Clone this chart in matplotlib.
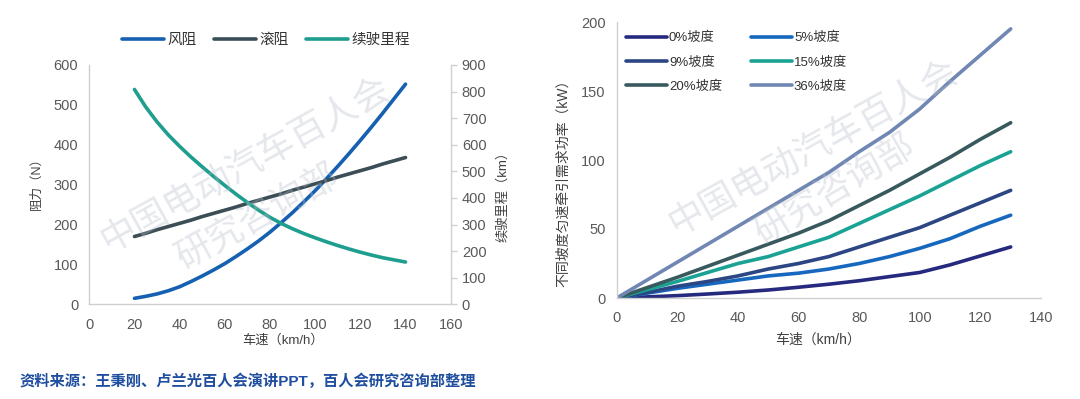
import matplotlib
matplotlib.use('Agg')
import matplotlib.pyplot as plt

plt.rcParams['font.family'] = ['Liberation Sans', 'Noto Sans CJK SC']

# ---------------- data: left chart ----------------
speed_left = [20, 25, 30, 35, 40, 45, 50, 55, 60, 65, 70, 75, 80, 85, 90, 95,
              100, 105, 110, 115, 120, 125, 130, 135, 140]
wind_res = [15, 20, 26, 34, 44, 57, 71, 86, 102, 120, 139, 159, 181, 205, 230, 257,
            285, 315, 346, 378, 411, 445, 480, 516, 552]
roll_res = [170, 178, 187, 195, 203, 211, 220, 228, 236, 244, 253, 261, 269, 277, 286, 294,
            302, 310, 319, 327, 335, 343, 352, 360, 368]
range_km = [808, 742, 686, 637, 594, 554, 517, 481, 447, 414, 383, 354, 327, 304, 284, 266,
            250, 235, 221, 208, 196, 185, 175, 167, 159]
left_labels = ['风阻', '滚阻', '续驶里程']

# ---------------- data: right chart ----------------
speed_right = [0, 10, 20, 30, 40, 50, 60, 70, 80, 90, 100, 110, 120, 130]
grade_0 = [0, 0.8, 1.7, 2.9, 4.2, 5.8, 7.8, 10, 12.5, 15.5, 18.5, 24, 30.5, 37]
grade_5 = [0, 3.5, 7, 10, 13, 16, 18, 21, 25, 30, 36, 43, 52, 60]
grade_9 = [0, 4, 8.5, 12, 16, 21, 25, 30, 37, 44, 51, 60, 69, 78]
grade_15 = [0, 6, 12, 18.5, 25, 30, 37, 44, 54, 64, 74, 85, 96, 106]
grade_20 = [0, 7.5, 15, 23, 31, 39, 47, 56, 67, 78, 90, 102, 115, 127]
grade_36 = [0, 13, 26, 39, 52, 65, 78, 91, 106, 120, 137, 157, 176, 195]
grade_labels = ['0%坡度', '5%坡度', '9%坡度', '15%坡度', '20%坡度', '36%坡度']

W, H = 1080, 399
fig = plt.figure(figsize=(W / 100, H / 100), dpi=100)
fig.patch.set_facecolor('white')

tick_col = '#595959'
lab_col = '#404040'
spine_col = '#D0D0D0'
lw = 2.6

def px(x, y):
    return x / W, 1 - y / H

# ---------------- left chart ----------------
axL = fig.add_axes([89.3 / W, (H - 304.3) / H, (450.7 - 89.3) / W, (304.3 - 65) / H])
axR = axL.twinx()
l1, = axL.plot(speed_left, wind_res, color='#1560B0', lw=lw, solid_capstyle='round')
l2, = axL.plot(speed_left, roll_res, color='#3C4E55', lw=lw, solid_capstyle='round')
l3, = axR.plot(speed_left, range_km, color='#1E9E8E', lw=lw, solid_capstyle='round')
axL.set_xlim(0, 160)
axL.set_ylim(0, 600)
axR.set_ylim(0, 900)
axL.set_xticks(range(0, 161, 20))
axL.set_yticks(range(0, 601, 100))
axR.set_yticks(range(0, 901, 100))
for a in (axL, axR):
    for s in a.spines.values():
        s.set_color(spine_col)
        s.set_linewidth(1.0)
    a.spines['top'].set_visible(False)
axL.spines['right'].set_visible(False)
axR.spines['left'].set_visible(False)
axR.spines['bottom'].set_visible(False)
axL.tick_params(axis='both', length=0, labelsize=10.5, labelcolor=tick_col)
axL.tick_params(axis='x', pad=10)
axL.tick_params(axis='y', pad=8)
axR.tick_params(axis='y', length=4, width=1, color=spine_col, labelsize=10.5,
                labelcolor=tick_col, pad=4, direction='out')

fig.legend([l1, l2, l3], left_labels, loc='center', bbox_to_anchor=px(266, 40),
           ncol=3, frameon=False, fontsize=10.5, handlelength=2.9, handletextpad=0.2,
           columnspacing=1.2, labelcolor='#333333')

fig.text(*px(37, 180), '阻力（N）', rotation=90, ha='center', va='center',
         fontsize=9, color=lab_col)
fig.text(*px(503, 193), '续驶里程（km）', rotation=90, ha='center', va='center',
         fontsize=9.5, color=lab_col)
fig.text(*px(283, 340), '车速（km/h）', ha='center', va='center',
         fontsize=9.5, color=lab_col)

# ---------------- right chart ----------------
ax2 = fig.add_axes([616.7 / W, (H - 298) / H, (1041 - 616.7) / W, (298 - 22) / H])
series = [grade_0, grade_5, grade_9, grade_15, grade_20, grade_36]
colors = ['#262A7E', '#1668BF', '#2B4683', '#1AA394', '#385A5E', '#7087B3']
lines = []
for vals, c in zip(series, colors):
    ln, = ax2.plot(speed_right, vals, color=c, lw=lw, solid_capstyle='round')
    lines.append(ln)
ax2.set_xlim(0, 140)
ax2.set_ylim(0, 200)
ax2.set_xticks(range(0, 141, 20))
ax2.set_yticks(range(0, 201, 50))
for s in ax2.spines.values():
    s.set_color(spine_col)
    s.set_linewidth(1.0)
ax2.spines['top'].set_visible(False)
ax2.spines['right'].set_visible(False)
ax2.tick_params(axis='both', length=0, labelsize=10.5, labelcolor=tick_col)
ax2.tick_params(axis='x', pad=9)
ax2.tick_params(axis='y', pad=8)

order = [0, 2, 4, 1, 3, 5]
ax2.legend([lines[i] for i in order], [grade_labels[i] for i in order],
           loc='upper left', bbox_to_anchor=px(626, 32), bbox_transform=fig.transFigure,
           ncol=2, frameon=False, fontsize=9.5, handlelength=3.1, handletextpad=0.15,
           columnspacing=2.2, labelspacing=0.9, borderaxespad=0, borderpad=0,
           labelcolor='#333333')

fig.text(*px(563, 180), '不同坡度匀速牵引需求功率（kW）', rotation=90, ha='center',
         va='center', fontsize=10, color=lab_col)
fig.text(*px(818, 340), '车速（km/h）', ha='center', va='center',
         fontsize=10, color=lab_col)

# ---------------- watermark ----------------
wm = dict(color='#B4BCC8', alpha=0.35, ha='center', va='center',
          rotation_mode='anchor', zorder=20)
fig.text(*px(245, 165), '中国电动汽车百人会', fontsize=26, rotation=29, **wm)
fig.text(*px(258, 218), '研究咨询部', fontsize=26, rotation=29, **wm)
fig.text(*px(813, 148), '中国电动汽车百人会', fontsize=26, rotation=29, **wm)
fig.text(*px(835, 190), '研究咨询部', fontsize=26, rotation=31, **wm)

# ---------------- source ----------------
fig.text(*px(20, 381), '资料来源：王秉刚、卢兰光百人会演讲PPT，百人会研究咨询部整理',
         ha='left', va='center', fontsize=11, fontweight='bold', color='#1F4E9F')

fig.savefig('out.png', dpi=100, facecolor='white')
